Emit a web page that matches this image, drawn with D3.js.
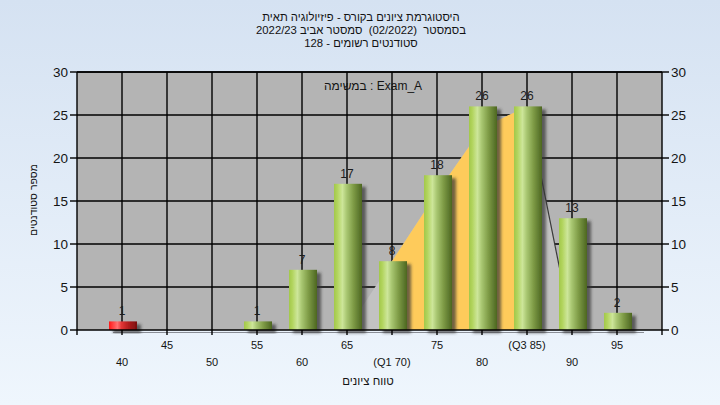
<!DOCTYPE html>
<html><head><meta charset="utf-8">
<script src="https://cdn.jsdelivr.net/npm/d3@7/dist/d3.min.js"></script>
<style>html,body{margin:0;padding:0;overflow:hidden;} text{font-family:"Liberation Sans",Arial,sans-serif;}</style>
</head><body>
<script>
// ---- data ----
const categories = [40,45,50,55,60,65,70,75,80,85,90,95];
const counts     = [1,0,0,1,7,17,8,18,26,26,13,2];
const tickLabels = ["40","45","50","55","60","65","(Q1 70)","75","80","(Q3 85)","90","95"];
const passGrade  = 55;
const curveX = [65,70,75,80,85,90];
const curveY = [0,8,16,23.5,26,0];
const q1 = 70, q3 = 85;
const yTicks = [0,5,10,15,20,25,30];
const titleLines = ["היסטוגרמת ציונים בקורס - פיזיולוגיה תאית","בסמסטר  (02/2022)  סמסטר אביב 2022/23","סטודנטים רשומים - 128"];
const taskLabel = "במשימה : Exam_A";
const xTitle = "טווח ציונים";
const yTitle = "מספר סטודנטים";

const W=720,H=405;
const svg = d3.select("body").append("svg").attr("width",W).attr("height",H);
const defs = svg.append("defs");
const bgG = defs.append("linearGradient").attr("id","bg").attr("x1",0).attr("y1",0).attr("x2",0).attr("y2",1);
bgG.append("stop").attr("offset","0%").attr("stop-color","#d5e2f2");
bgG.append("stop").attr("offset","100%").attr("stop-color","#eff6fd");
function barGrad(id, stops){
  const g = defs.append("linearGradient").attr("id",id).attr("x1",0).attr("y1",0).attr("x2",1).attr("y2",0);
  stops.forEach(s=>g.append("stop").attr("offset",s[0]).attr("stop-color",s[1]));
}
barGrad("green",[["0%","#a2c84a"],["12%","#b2d45e"],["30%","#cde69a"],["45%","#a9c772"],["70%","#7d9a45"],["100%","#4c6621"]]);
barGrad("red",[["0%","#ff1818"],["12%","#ff3a3a"],["30%","#ff7070"],["45%","#e23434"],["70%","#b01c1c"],["100%","#7a0e0e"]]);
const f = defs.append("filter").attr("id","sh").attr("x","-20%").attr("y","-20%").attr("width","160%").attr("height","160%");
f.append("feDropShadow").attr("dx",4).attr("dy",3).attr("stdDeviation",1.8).attr("flood-color","#303030").attr("flood-opacity",0.7);

svg.append("rect").attr("width",W).attr("height",H).attr("fill","url(#bg)");

const x = d3.scaleLinear().domain([35,100]).range([77,662]);
const y = d3.scaleLinear().domain([0,30]).range([330,72]);

// plot area
svg.append("rect").attr("x",x(35)).attr("y",y(30)).attr("width",x(100)-x(35)).attr("height",y(0)-y(30)).attr("fill","#b4b4b4");

// gridlines
svg.append("g").selectAll("line").data(yTicks.filter(d=>d>0)).join("line")
  .attr("x1",x(35)).attr("x2",x(100)).attr("y1",d=>y(d)).attr("y2",d=>y(d))
  .attr("stroke","#000").attr("stroke-width",1.4);
svg.append("g").selectAll("line").data(categories).join("line")
  .attr("x1",d=>x(d)).attr("x2",d=>x(d)).attr("y1",y(30)).attr("y2",y(0))
  .attr("stroke","#000").attr("stroke-width",1.4);

// distribution area
const pts = curveX.map((c,i)=>[c,curveY[i]]);
const area = d3.area().x(d=>x(d[0])).y0(y(0)).y1(d=>y(d[1]));
svg.append("path").datum(pts).attr("d",area).attr("fill","#c2c2c2");
const inner = pts.filter(d=>d[0]>=q1 && d[0]<=q3);
svg.append("path").datum(inner).attr("d",area).attr("fill","#fecb5b");
svg.append("path").datum(pts.filter(d=>d[0]>=q3)).attr("d",d3.line().x(d=>x(d[0])).y(d=>y(d[1])))
  .attr("fill","none").attr("stroke","#3a3a3a").attr("stroke-width",1.2);

// shadow floor line
svg.append("line").attr("x1",x(39)).attr("x2",x(98)).attr("y1",332.5).attr("y2",332.5).attr("stroke","#8a8e96").attr("stroke-width",1);

// bars
const data = categories.map((c,i)=>({c,v:counts[i]})).filter(d=>d.v>0);
const bw = 28;
svg.append("g").selectAll("rect").data(data).join("rect")
  .attr("x",d=>x(d.c)-bw/2+1).attr("width",bw)
  .attr("y",d=>y(d.v)).attr("height",d=>y(0)-y(d.v))
  .attr("fill",d=>d.c<passGrade?"url(#red)":"url(#green)")
  .attr("filter","url(#sh)");
svg.append("g").selectAll("text").data(data).join("text")
  .attr("x",d=>x(d.c)).attr("y",d=>y(d.v)-6).attr("text-anchor","middle")
  .attr("font-size",12).attr("fill","#1c1c1c").text(d=>d.v);

// axes lines
const ax = svg.append("g").attr("stroke","#000").attr("stroke-width",1.4);
ax.append("line").attr("x1",x(35)).attr("x2",x(35)).attr("y1",y(30)).attr("y2",335);
ax.append("line").attr("x1",x(100)).attr("x2",x(100)).attr("y1",y(30)).attr("y2",335);
ax.append("line").attr("x1",x(35)).attr("x2",x(100)).attr("y1",y(0)).attr("y2",y(0));
ax.append("line").attr("x1",x(35)).attr("x2",x(100)).attr("y1",y(30)).attr("y2",y(30));
ax.selectAll("line.lt").data(yTicks).join("line").attr("x1",70).attr("x2",x(35)).attr("y1",d=>y(d)).attr("y2",d=>y(d));
ax.selectAll("line.rt").data(yTicks).join("line").attr("x1",x(100)).attr("x2",669).attr("y1",d=>y(d)).attr("y2",d=>y(d));
ax.selectAll("line.bt").data(categories).join("line").attr("x1",d=>x(d)).attr("x2",d=>x(d)).attr("y1",y(0)).attr("y2",335);

// y tick labels
svg.append("g").selectAll("text").data(yTicks).join("text")
  .attr("x",68).attr("y",d=>y(d)+5).attr("text-anchor","end").attr("font-size",13.5).attr("fill","#141414").text(d=>d);
svg.append("g").selectAll("text").data(yTicks).join("text")
  .attr("x",671).attr("y",d=>y(d)+5).attr("text-anchor","start").attr("font-size",13.5).attr("fill","#141414").text(d=>d);

// x tick labels (staggered)
svg.append("g").selectAll("text").data(categories).join("text")
  .attr("x",d=>x(d)).attr("y",(d,i)=>i%2===0?366:349).attr("text-anchor","middle")
  .attr("font-size",11).attr("fill","#141414").text((d,i)=>tickLabels[i]);

// titles
svg.append("g").selectAll("text").data(titleLines).join("text")
  .attr("x",361).attr("y",(d,i)=>21+i*13).attr("text-anchor","middle").attr("font-size",11.3)
  .attr("fill","#121212").style("white-space","pre").text(d=>d);
svg.append("text").attr("x",373).attr("y",90).attr("text-anchor","middle").attr("font-size",12)
  .attr("fill","#141414").text(taskLabel);
svg.append("text").attr("x",368).attr("y",385).attr("text-anchor","middle").attr("font-size",11.5)
  .attr("fill","#141414").text(xTitle);
svg.append("text").attr("transform","translate(37,200) rotate(-90)").attr("text-anchor","middle").attr("font-size",10.5)
  .attr("fill","#141414").text(yTitle);
</script>
</body></html>
